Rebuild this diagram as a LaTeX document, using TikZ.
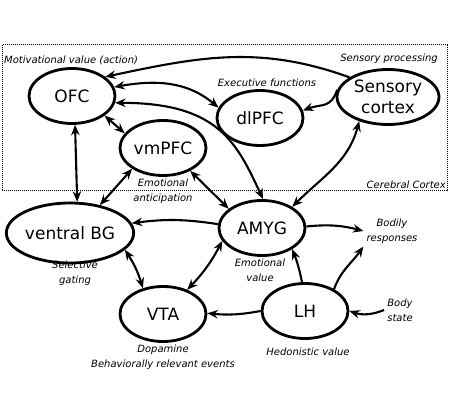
\documentclass[tikz,border=0pt]{standalone}
\usepackage{fontspec}
\setmainfont{DejaVu Sans}
\usetikzlibrary{arrows.meta,shapes.geometric}
\tikzset{
  >={Stealth[length=10.5pt,width=8.5pt,inset=3.5pt]},
  region/.style={ellipse,draw,line width=2.8pt,inner sep=0pt,
    minimum width=86pt,minimum height=55pt,align=center,
    font=\fontsize{17}{21}\selectfont},
  note/.style={font=\itshape\fontsize{10}{15}\selectfont,align=center,inner sep=3pt},
  link/.style={line width=2.1pt},
  cortexline/.style={line width=1pt,dash pattern=on 1pt off 1pt},
}
\begin{document}
\begin{tikzpicture}[x=1pt,y=1pt]
  \useasboundingbox (0,0) rectangle (450,-414);
  \draw[cortexline] (2,-45) rectangle (447,-191);
  % brain areas
  \foreach \n/\x/\y/\t in {ofc/72/96/OFC,dlpfc/260/118/dlPFC,vmpfc/163/148/vmPFC,
    amyg/262/228/AMYG,vta/163/314/VTA,lh/305/311/LH}
    \node[region] (\n) at (\x,-\y) {\t};
  \node[region,minimum width=102pt] (sensory) at (388,-97) {Sensory\\cortex};
  \node[region,minimum width=116pt,minimum height=60pt] (bg) at (70,-233) {ventral BG};
  % labels
  \node[note,anchor=west] (motiv) at (1,-60) {Motivational value (action)};
  \node[note] (sensproc) at (389,-59) {Sensory processing};
  \node[note] (exec) at (267,-83) {Executive functions};
  \node[note,anchor=east] (cortex) at (449,-185) {Cerebral Cortex};
  \node[note] (antic) at (163,-191) {Emotional\\anticipation};
  \node[note] (gating) at (75,-273) {Selective\\gating};
  \node[note] (emoval) at (260,-270) {Emotional\\value};
  \node[note] (bodily) at (392,-231) {Bodily\\responses};
  \node[note] (body) at (400,-310) {Body\\state};
  \node[note] (hedon) at (308,-352) {Hedonistic value};
  \node[note] (dopa) at (163,-357) {Dopamine\\Behaviorally relevant events};
  % connections
  \draw[link,->] (sensory.153) to[out=160,in=12] (ofc.30);
  \draw[link,->] (sensory.172) to[out=250,in=20,looseness=1.3] (dlpfc.10);
  \draw[link,<->] (ofc.12) to[out=10,in=140] (dlpfc.166);
  \draw[link,<->] (ofc.-9) to[out=0,in=115,out looseness=1.5,in looseness=0.9] (amyg.88);
  \draw[link,<->] (sensory.220) to[out=255,in=45] (amyg.35);
  \draw[link,<->] (ofc.-31) -- (vmpfc.159);
  \draw[link,<->] (ofc.-84) -- (bg.77);
  \draw[link,<->] (vmpfc.214) -- (bg.43);
  \draw[link,<->] (vmpfc.-40) -- (amyg.150);
  \draw[link,->] (amyg.175) to[bend right=8] (bg.9);
  \draw[link,<->] (bg.-17) to[bend left=8] (vta.128);
  \draw[link,<->] (amyg.198) to[bend left=8] (vta.45);
  \draw[link,->] (lh.180) to[bend left=8] (vta.1);
  \draw[link,->] (lh.96) to[bend right=5] (amyg.-35);
  \draw[link,->] (lh.37) to[out=70,in=235] (bodily.south west);
  \draw[link,->] (amyg.2) to[bend left=10] (bodily.west);
  \draw[link,->] (body.west) to[bend left=20] (lh.0);
\end{tikzpicture}
\end{document}
